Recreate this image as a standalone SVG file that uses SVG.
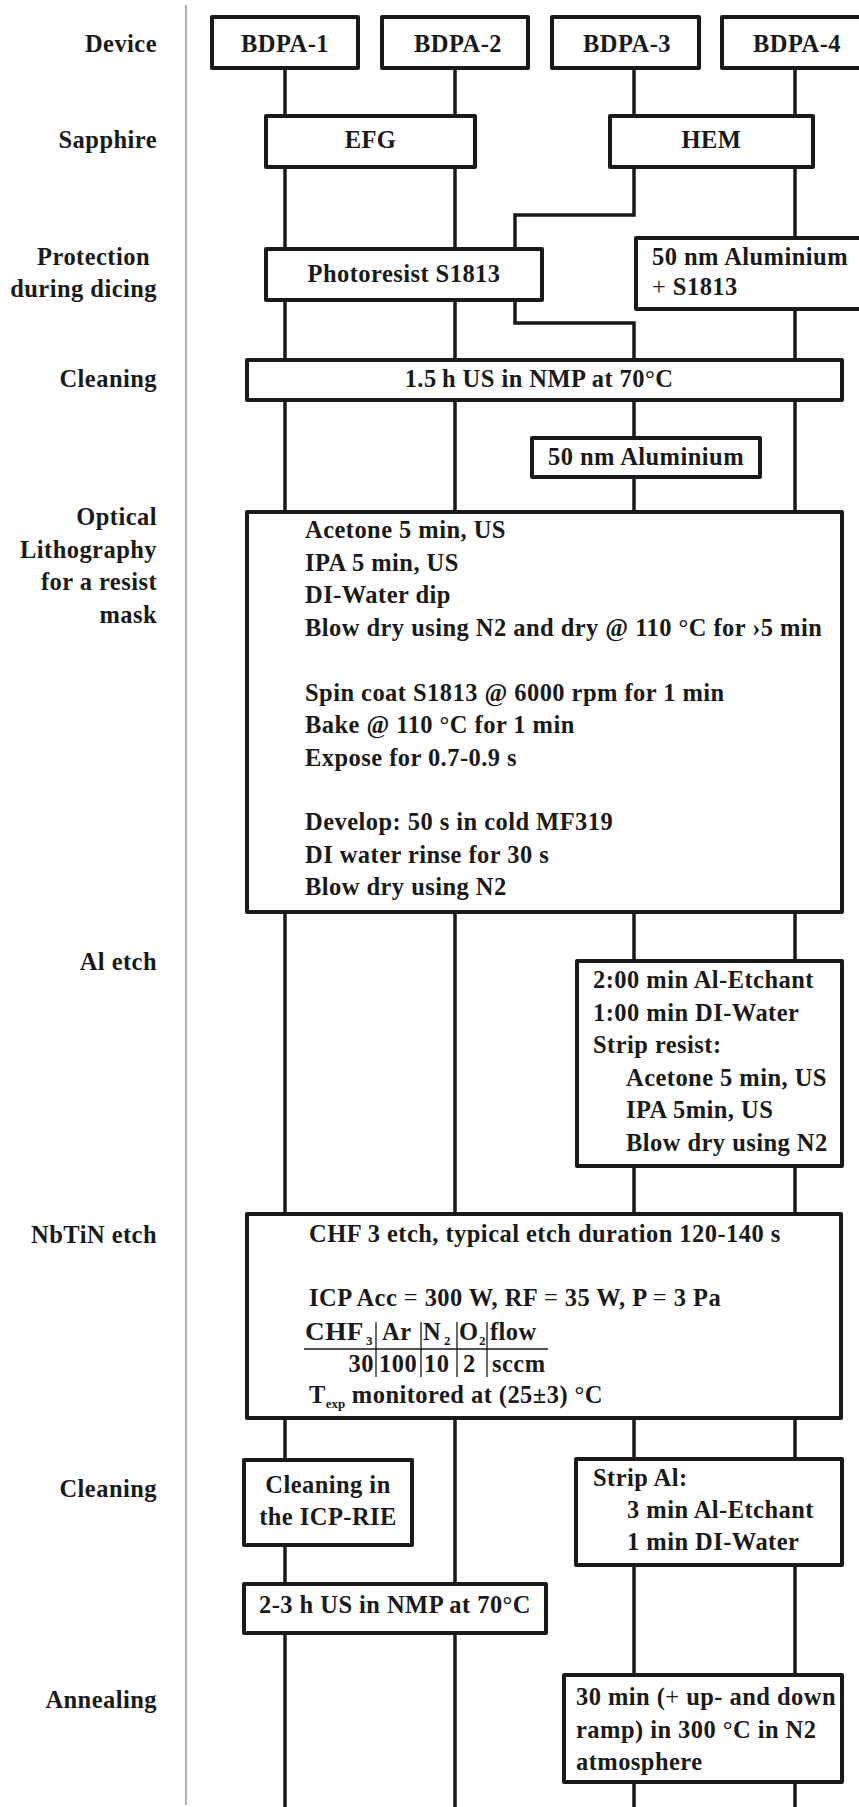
<svg xmlns="http://www.w3.org/2000/svg" width="859" height="1807" viewBox="0 0 859 1807">
<style>
.box{fill:#fff;stroke:#1a1a1a;stroke-width:4;stroke-linejoin:round}
.lane{fill:none;stroke:#1a1a1a;stroke-width:3.5}
.t{font-family:'Liberation Serif','Times New Roman',Times,serif;font-size:24.5px;font-weight:bold;fill:#1a1a1a;letter-spacing:0.45px}
.e{text-anchor:end}
.m{text-anchor:middle}
.s{font-size:13px;letter-spacing:0}
.thin{stroke:#1a1a1a;stroke-width:1.3}
</style>
<rect width="859" height="1807" fill="#fff"/>
<g id="labels">
<line x1="186" y1="5" x2="186" y2="1805" stroke="#999" stroke-width="1.5"/>
<text class="t e" x="157" y="52">Device</text>
<text class="t e" x="157" y="148">Sapphire</text>
<text class="t e" x="150" y="265">Protection</text>
<text class="t e" x="157" y="297">during dicing</text>
<text class="t e" x="157" y="387">Cleaning</text>
<text class="t e" x="157" y="525">Optical</text>
<text class="t e" x="157" y="557.5">Lithography</text>
<text class="t e" x="157" y="590">for a resist</text>
<text class="t e" x="157" y="622.5">mask</text>
<text class="t e" x="157" y="970">Al etch</text>
<text class="t e" x="157" y="1243">NbTiN etch</text>
<text class="t e" x="157" y="1497">Cleaning</text>
<text class="t e" x="157" y="1708">Annealing</text>
</g>
<g id="connectors">
<line class="lane" x1="285" y1="70" x2="285" y2="1807"/>
<line class="lane" x1="455" y1="70" x2="455" y2="1807"/>
<polyline class="lane" points="634,70 634,215 515,215 515,323 634,323 634,1807"/>
<line class="lane" x1="795" y1="70" x2="795" y2="1807"/>
</g>
<g id="n-bdpa1"><rect class="box" x="212" y="17" width="146" height="51"/><text class="t m" x="285" y="52">BDPA-1</text></g>
<g id="n-bdpa2"><rect class="box" x="382" y="17" width="146" height="51"/><text class="t m" x="458" y="52">BDPA-2</text></g>
<g id="n-bdpa3"><rect class="box" x="552" y="17" width="147" height="51"/><text class="t m" x="627" y="52">BDPA-3</text></g>
<g id="n-bdpa4"><rect class="box" x="722" y="17" width="146" height="51"/><text class="t m" x="797" y="52">BDPA-4</text></g>
<g id="n-efg"><rect class="box" x="266" y="116" width="209" height="51"/><text class="t m" x="370.5" y="148">EFG</text></g>
<g id="n-hem"><rect class="box" x="610" y="116" width="203" height="51"/><text class="t m" x="711.5" y="148">HEM</text></g>
<g id="n-photoresist"><rect class="box" x="266" y="249" width="276" height="51"/><text class="t m" x="404" y="282">Photoresist S1813</text></g>
<g id="n-al-s1813"><rect class="box" x="636" y="238" width="240" height="71"/><text class="t" x="652" y="265">50 nm Aluminium</text><text class="t" x="652" y="295"><tspan font-weight="normal">+</tspan> S1813</text></g>
<g id="n-cleaning1"><rect class="box" x="247" y="360" width="595" height="40"/><text class="t m" x="539" y="387">1.5&#8201;h US in NMP at 70°C</text></g>
<g id="n-al50"><rect class="box" x="532" y="438" width="228" height="39"/><text class="t m" x="646" y="465">50 nm Aluminium</text></g>
<g id="n-litho"><rect class="box" x="247" y="512" width="595" height="400"/>
<text class="t" x="305" y="538">Acetone 5 min, US</text>
<text class="t" x="305" y="570.5">IPA 5 min, US</text>
<text class="t" x="305" y="603">DI-Water dip</text>
<text class="t" x="305" y="635.5">Blow dry using N2 and dry @ 110 °C for ›5 min</text>
<text class="t" x="305" y="700.5">Spin coat S1813 @ 6000 rpm for 1 min</text>
<text class="t" x="305" y="733">Bake @ 110 °C for 1 min</text>
<text class="t" x="305" y="765.5">Expose for 0.7-0.9 s</text>
<text class="t" x="305" y="830">Develop: 50 s in cold MF319</text>
<text class="t" x="305" y="862.5">DI water rinse for 30 s</text>
<text class="t" x="305" y="895">Blow dry using N2</text>
</g>
<g id="n-aletch"><rect class="box" x="577" y="961" width="265" height="205"/>
<text class="t" x="593" y="988">2:00 min Al-Etchant</text>
<text class="t" x="593" y="1020.5">1:00 min DI-Water</text>
<text class="t" x="593" y="1053">Strip resist:</text>
<text class="t" x="626" y="1085.5">Acetone 5 min, US</text>
<text class="t" x="626" y="1118">IPA 5min, US</text>
<text class="t" x="626" y="1150.5">Blow dry using N2</text>
</g>
<g id="n-nbtin"><rect class="box" x="247" y="1214" width="594" height="204"/>
<text class="t" x="309" y="1242">CHF 3 etch, typical etch duration 120-140 s</text>
<text class="t" x="309" y="1306">ICP Acc <tspan font-weight="normal">=</tspan> 300 W, RF <tspan font-weight="normal">=</tspan> 35 W, P <tspan font-weight="normal">=</tspan> 3 Pa</text>
<line class="thin" x1="304" y1="1349" x2="548" y2="1349"/>
<line class="thin" x1="376" y1="1322" x2="376" y2="1377"/>
<line class="thin" x1="421" y1="1322" x2="421" y2="1377"/>
<line class="thin" x1="457" y1="1322" x2="457" y2="1377"/>
<line class="thin" x1="487" y1="1322" x2="487" y2="1377"/>
<text class="t" x="305" y="1340" textLength="59" lengthAdjust="spacingAndGlyphs">CHF</text><text class="t s" x="366" y="1345">3</text>
<text class="t" x="382" y="1340">Ar</text>
<text class="t" x="423" y="1340">N</text><text class="t s" x="444" y="1345">2</text>
<text class="t" x="459" y="1340">O</text><text class="t s" x="479" y="1345">2</text>
<text class="t" x="490" y="1340">flow</text>
<text class="t e" x="374" y="1372">30</text>
<text class="t" x="379" y="1372">100</text>
<text class="t" x="424" y="1372">10</text>
<text class="t" x="463" y="1372">2</text>
<text class="t" x="492" y="1372">sccm</text>
<text class="t" x="309" y="1403">T<tspan class="s" dy="5">exp</tspan><tspan dy="-5"> monitored at (25±3) °C</tspan></text>
</g>
<g id="n-cleaning-icp"><rect class="box" x="244" y="1460" width="168" height="85"/><text class="t m" x="328" y="1493">Cleaning in</text><text class="t m" x="328" y="1525">the ICP-RIE</text></g>
<g id="n-stripal"><rect class="box" x="576" y="1459" width="266" height="106"/>
<text class="t" x="593" y="1486">Strip Al:</text>
<text class="t" x="627" y="1517.5">3 min Al-Etchant</text>
<text class="t" x="627" y="1549.5">1 min DI-Water</text>
</g>
<g id="n-cleaning2"><rect class="box" x="244" y="1584" width="302" height="49"/><text class="t m" x="395" y="1613">2-3 h US in NMP at 70°C</text></g>
<g id="n-anneal"><rect class="box" x="564" y="1675" width="278" height="107"/>
<text class="t" x="576" y="1705">30 min (<tspan font-weight="normal">+</tspan> up- and down</text>
<text class="t" x="576" y="1737.5">ramp) in 300 °C in N2</text>
<text class="t" x="576" y="1770">atmosphere</text>
</g>
</svg>
